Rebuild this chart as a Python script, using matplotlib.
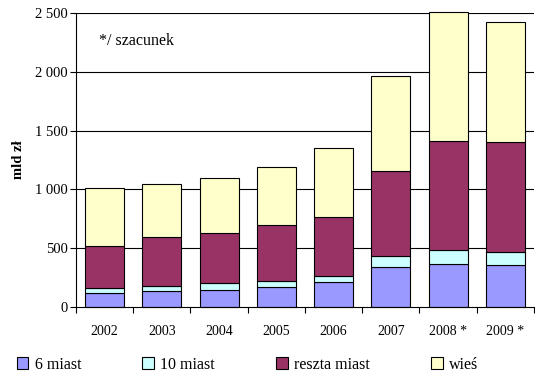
import numpy as np
import matplotlib.pyplot as plt
from matplotlib.ticker import FuncFormatter, FixedLocator

plt.rcParams['font.family'] = ['Liberation Serif', 'DejaVu Serif']

years = ["2002", "2003", "2004", "2005", "2006", "2007", "2008 *", "2009 *"]
six_cities = [114, 131, 140, 165, 208, 336, 361, 353]
ten_cities = [48, 48, 62, 57, 56, 93, 125, 116]
other_cities = [358, 417, 423, 471, 503, 725, 928, 934]
villages = [491, 452, 470, 500, 588, 814, 1097, 1020]

series = [
    ("6 miast", six_cities, "#9999FF"),
    ("10 miast", ten_cities, "#CCFFFF"),
    ("reszta miast", other_cities, "#993366"),
    ("wieś", villages, "#FFFFCC"),
]

fig = plt.figure(figsize=(5.35, 3.74), dpi=100)
ax = fig.add_axes([0.142, 0.18, 0.856, 0.785])

x = np.arange(len(years))
bottom = np.zeros(len(years))
for name, vals, color in series:
    ax.bar(x, vals, bottom=bottom, width=0.68, color=color,
           edgecolor="black", linewidth=0.8, label=name, zorder=3,
           clip_on=False)
    bottom += np.array(vals)

ax.set_xlim(-0.5, len(years) - 0.5)
ax.set_ylim(0, 2500)
ax.set_yticks(np.arange(0, 2501, 500))
ax.yaxis.set_major_formatter(FuncFormatter(lambda v, p: f"{int(v):,}".replace(",", " ")))
for v in range(500, 2501, 500):
    ax.axhline(v, color="black", linewidth=0.8, zorder=1)

ax.set_xticks(x)
ax.set_xticklabels(years)
ax.xaxis.set_minor_locator(FixedLocator(np.arange(-0.5, len(years), 1.0)))
ax.tick_params(axis="x", which="major", length=0, pad=13, labelsize=10)
ax.tick_params(axis="x", which="minor", length=4, width=0.8, direction="out")
ax.tick_params(axis="y", length=4, width=0.8, direction="out", labelsize=10.5, pad=2)

for side in ("top", "right"):
    ax.spines[side].set_visible(False)
for side in ("left", "bottom"):
    ax.spines[side].set_linewidth(0.8)
    ax.spines[side].set_zorder(4)

ax.set_ylabel("mld zł", fontweight="bold", fontsize=10.5, labelpad=7)
ax.text(0.05, 0.905, "*/ szacunek", transform=ax.transAxes, fontsize=11.5,
        va="center", ha="left")

handles, labels = ax.get_legend_handles_labels()
fig.legend(handles, labels, loc="lower left", bbox_to_anchor=(0.004, -0.035),
           ncol=4, frameon=False, fontsize=11.5, handlelength=0.75,
           handleheight=0.75, handletextpad=0.4, columnspacing=3.8)

fig.savefig("out.png", dpi=100)
